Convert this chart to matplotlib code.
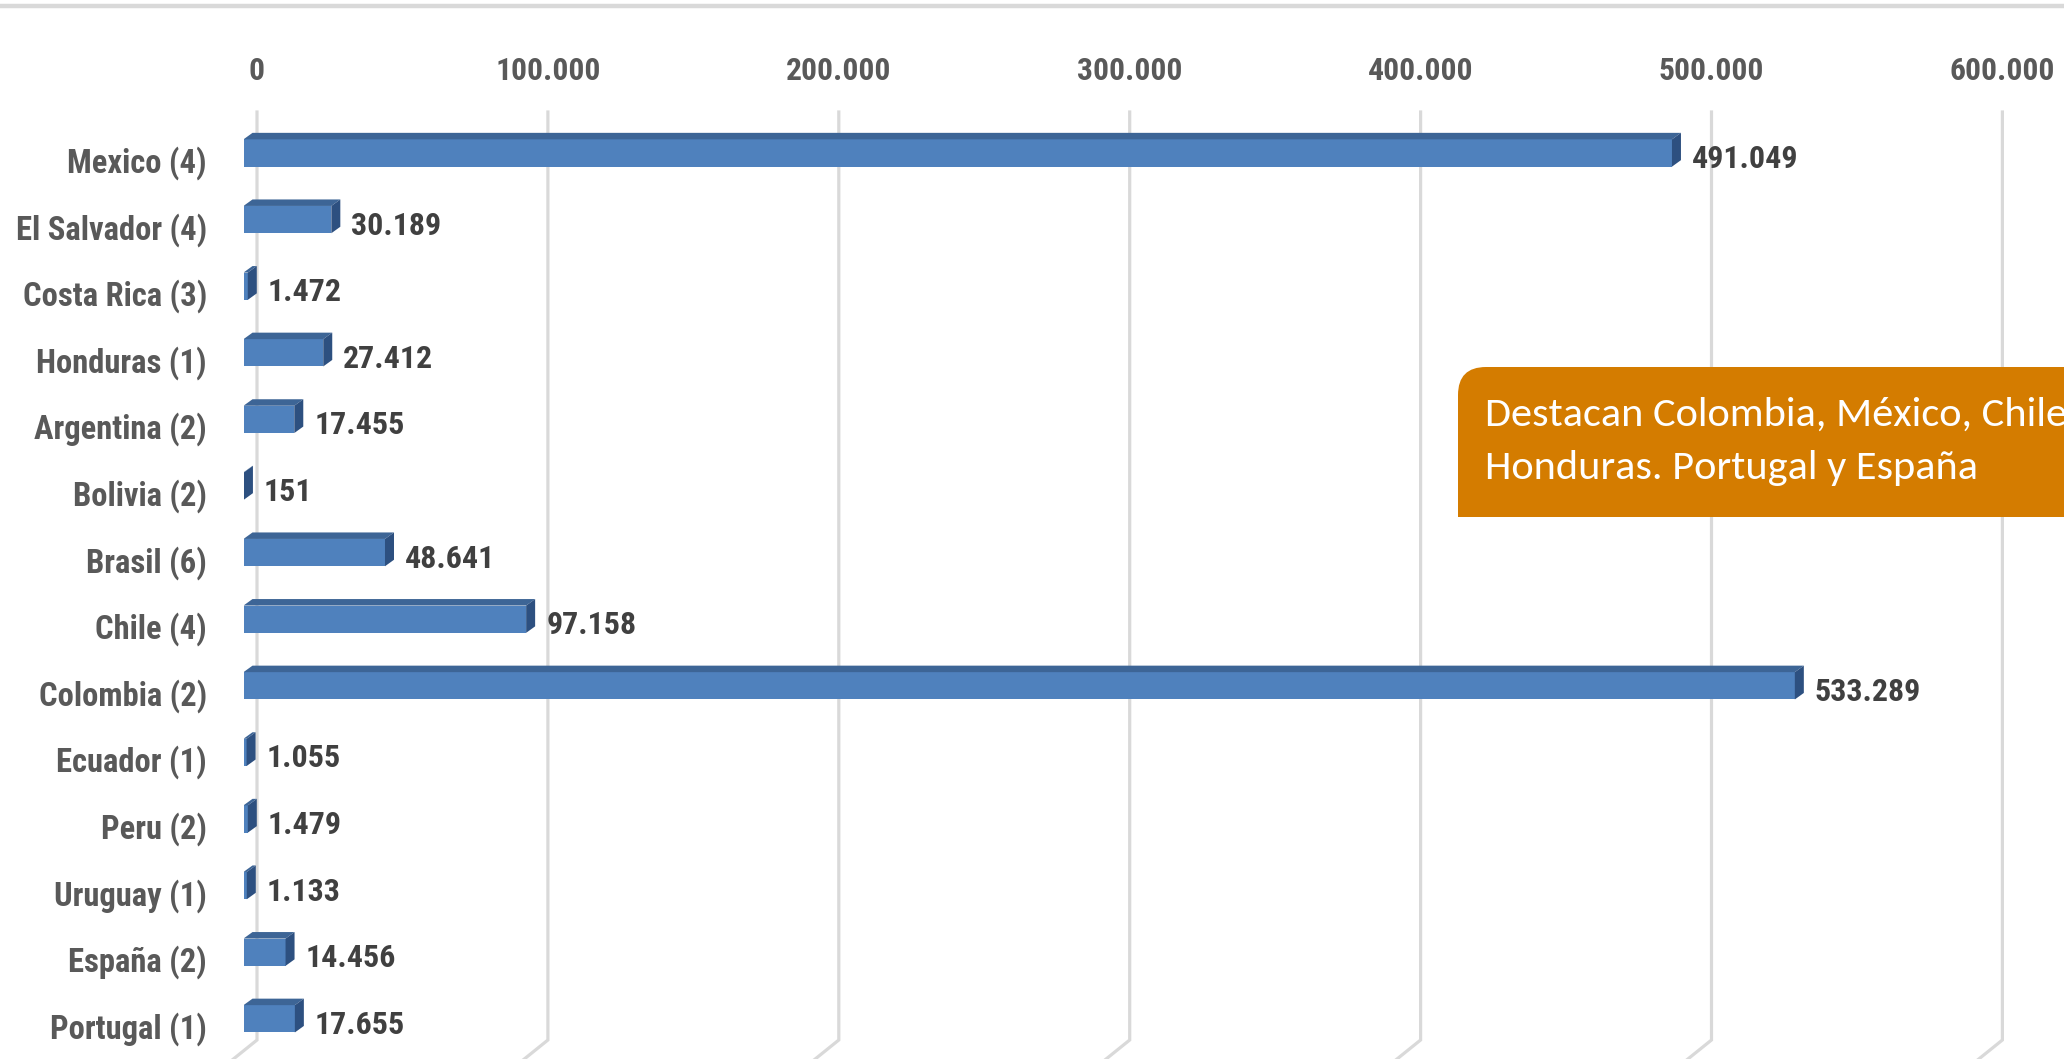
import matplotlib
matplotlib.use("Agg")
import numpy as np
import matplotlib.pyplot as plt
from matplotlib.patches import Polygon, FancyBboxPatch, Rectangle
from matplotlib.lines import Line2D
import matplotlib.transforms as mtransforms
from matplotlib import font_manager as fm

# ---------------- data ----------------
categories = ["Mexico (4)", "El Salvador (4)", "Costa Rica (3)", "Honduras (1)",
              "Argentina (2)", "Bolivia (2)", "Brasil (6)", "Chile (4)",
              "Colombia (2)", "Ecuador (1)", "Peru (2)", "Uruguay (1)",
              "España (2)", "Portugal (1)"]
values = [491049, 30189, 1472, 27412, 17455, 151, 48641, 97158,
          533289, 1055, 1479, 1133, 14456, 17655]
x_ticks = [0, 100000, 200000, 300000, 400000, 500000, 600000]
note_lines = ["Destacan Colombia, México, Chile", "Honduras. Portugal y España"]


def fmt(v):
    return f"{v:,}".replace(",", ".")


# ---------------- fonts ----------------
def pick_narrow():
    names = {f.name for f in fm.fontManager.ttflist}
    for n in ["Liberation Sans Narrow", "Arial Narrow", "Roboto Condensed",
              "Open Sans Condensed", "Noto Sans Condensed", "DejaVu Sans Condensed"]:
        if n in names:
            return n, "normal"
    for pref in ["Liberation Sans", "Roboto", "Noto Sans", "Open Sans", "DejaVu Sans"]:
        for f in fm.fontManager.ttflist:
            if f.name == pref and str(f.stretch) in ("condensed", "semi-condensed",
                                                      "extra-condensed"):
                return f.name, str(f.stretch)
    return "Liberation Sans", "normal"


def pick_note():
    names = {f.name for f in fm.fontManager.ttflist}
    for n in ["Carlito", "Calibri", "Open Sans"]:
        if n in names:
            return n
    return "DejaVu Sans"


NARROW, NARROW_STRETCH = pick_narrow()
NARROW_FAMILY = [NARROW, "DejaVu Sans"]
NOTE_FAMILY = [pick_note(), "DejaVu Sans"]
narrow_shrink = 1.0 if NARROW_STRETCH != "normal" or "Narrow" in NARROW or "Condensed" in NARROW else 0.86

# ---------------- style ----------------
W, H, DPI = 2064, 1059, 100
FRONT = "#4F81BD"
TOP = "#3D6596"
SIDE = "#2D5080"
GRID = "#D9D9D9"
FS = 24 * narrow_shrink

X0_PX = 243.5        # pixel of front-face zero
PX_PER_100K = 290.9
ROW0_PX = 153.0      # pixel (from top) of first row centre
ROW_PX = 66.6


def px2x(px):
    return px / PX_PER_100K * 1e5


def px2row(px):
    return px / ROW_PX


def row_at(px_from_top):
    return (px_from_top - ROW0_PX) / ROW_PX


def lbl(**kw):
    d = dict(fontweight="bold", family=NARROW_FAMILY, fontstretch=NARROW_STRETCH)
    d.update(kw)
    return d


fig = plt.figure(figsize=(W / DPI, H / DPI), dpi=DPI)
fig.patch.set_facecolor("white")

ax = fig.add_axes([X0_PX / W, 0, 1 - X0_PX / W, 1])
ax.set_xlim(0, px2x(W - X0_PX))
ax.set_ylim(row_at(H), row_at(0))
ax.axis("off")

# top thin grey band
fig.add_artist(Line2D([0, 1], [1 - 5.5 / H] * 2, transform=fig.transFigure,
                      color=GRID, lw=3.2))

# gridlines (back wall + floor) and top tick labels
GRID_DX = px2x(13.5)
for t in x_ticks:
    gx = t + GRID_DX
    ax.plot([gx, gx, gx - px2x(36)], [row_at(112), row_at(1040), row_at(1069)],
            color=GRID, lw=2.3, zorder=1, clip_on=False, solid_joinstyle="miter")
    ax.text(gx, row_at(71), fmt(t), ha="center", va="center",
            **lbl(fontsize=FS * 0.95, color="#595959"))

# bars with 3D faces
y = np.arange(len(categories))
BAR_H = 0.41
ax.barh(y, values, height=BAR_H, color=FRONT, edgecolor="none", zorder=3)
ddx = px2x(9)
ddy = px2row(6.5)
for yi, v in zip(y, values):
    top = yi - BAR_H / 2
    bot = yi + BAR_H / 2
    ax.add_patch(Polygon([(0, top), (v, top), (v + ddx, top - ddy), (ddx, top - ddy)],
                         closed=True, fc=TOP, ec="none", zorder=3))
    ax.add_patch(Polygon([(v, top), (v, bot), (v + ddx, bot - ddy), (v + ddx, top - ddy)],
                         closed=True, fc=SIDE, ec="none", zorder=3))
    ax.text(v + px2x(20), yi + px2row(6), fmt(v), ha="left", va="center",
            zorder=4, **lbl(fontsize=FS * 0.96, color="#404040"))

# category labels
for yi, c in zip(y, categories):
    ax.text(-px2x(36.5), yi + px2row(10), c, ha="right", va="center",
            **lbl(fontsize=FS * 0.98, color="#595959"))

# annotation box (pixel coordinates)
ident = mtransforms.IdentityTransform()
bx0, btop, bbot = 1458, 367, 517
box = FancyBboxPatch((bx0, H - bbot), W + 200 - bx0, bbot - btop,
                     boxstyle="round,pad=0,rounding_size=28",
                     transform=ident, fc="#D47C00", ec="none", zorder=5)
fig.add_artist(box)
fig.add_artist(Rectangle((bx0, H - bbot), W + 200 - bx0, (bbot - btop) / 2,
                         transform=ident, fc="#D47C00", ec="none", zorder=5))

t1 = fig.text(1485 / W, 1 - 415 / H, note_lines[0], fontsize=24, color="white",
              va="center", ha="left", family=NOTE_FAMILY, zorder=6)
t2 = fig.text(1485 / W, 1 - 468 / H, note_lines[1], fontsize=24, color="white",
              va="center", ha="left", family=NOTE_FAMILY, zorder=6)
fig.canvas.draw()
w2 = t2.get_window_extent().width
fs = 24 * 493 / w2
t1.set_fontsize(fs)
t2.set_fontsize(fs)

fig.savefig("out.png", dpi=DPI, facecolor="white")
